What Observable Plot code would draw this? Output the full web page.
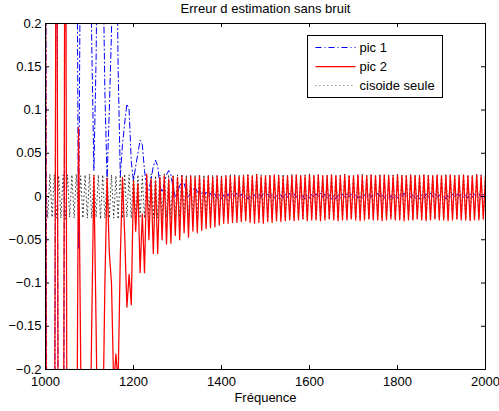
<!DOCTYPE html>
<html><head><meta charset="utf-8">
<script src="https://cdn.jsdelivr.net/npm/d3@7"></script>
<script src="https://cdn.jsdelivr.net/npm/@observablehq/plot@0.6"></script>
<style>
body{margin:0;background:#fff;}
#wrap{position:relative;width:499px;height:411px;font-family:"Liberation Sans",Arial,sans-serif;}
</style></head><body><div id="wrap"></div>
<script>
// frequency grid (Hz), 5 Hz step
const freq = d3.range(1000, 2001, 5);

// pic 1 (blue dash-dot)
const pic1 = [
0.6,-1.0,-1.5,-1.0,-0.5,0.6,-0.6,-1.0,-0.6,0.5,
0.9,1.2,1.2,0.9,0.5,-0.06,0.35,0.6,0.7,0.6,
0.4,0.18,0.03,0.16,0.4,0.5,0.3,0.12,0.02,0.1,
0.19,0.35,0.4,0.15,0.024,0.06,0.085,0.107,0.1,0.04,
0.018,0.035,0.05,0.065,0.06,0.03,0.01,0.007,0.02,0.035,
0.042,0.035,0.012,0.005,0.015,0.025,0.03,0.025,0.01,0.0,
0.005,0.012,0.018,0.015,0.006,0.0,0.004,0.008,0.01,0.006,0.002,
0.004,0.000,0.005,-0.001,0.004,-0.002,0.003,-0.002,0.002,-0.003,
0.002,-0.002,0.003,-0.001,0.004,0.000,0.004,-0.001,0.003,-0.002,
0.002,-0.003,0.001,-0.003,0.002,-0.002,0.003,-0.001,0.004,0.000,
0.003,-0.001,0.002,-0.002,0.001,-0.003,0.002,-0.002,0.003,-0.001,
0.004,0.000,0.003,-0.001,0.002,-0.002,0.001,-0.003,0.002,-0.002,
0.003,-0.001,0.003,0.000,0.004,-0.001,0.003,-0.002,0.002,-0.003,
0.001,-0.003,0.002,-0.002,0.003,-0.001,0.004,0.000,0.003,-0.001,
0.002,-0.002,0.001,-0.003,0.002,-0.002,0.003,-0.001,0.003,0.000,
0.004,-0.001,0.003,-0.002,0.002,-0.003,0.001,-0.003,0.002,-0.002,
0.003,-0.001,0.004,0.000,0.003,-0.001,0.002,-0.002,0.001,-0.003,
0.002,-0.002,0.003,-0.001,0.004,0.000,0.003,-0.001,0.002,-0.002,
0.001,-0.003,0.002,-0.002,0.003,-0.001,0.004,0.000,0.003,-0.001,
0.002,-0.002,0.003,-0.001,0.003,0.000,0.004,-0.001,0.003,-0.002
];

// pic 2 (red solid)
const pic2 = [
0.3,-1.2,-1.6,-1.2,-0.5,0.6,-0.6,-1.0,-0.6,0.6,
-0.6,-0.9,-0.9,-0.7,-0.45,0.08,-0.19,-0.5,-0.6,-0.5,
-0.35,-0.15,0.024,-0.15,-0.35,-0.4,-0.28,-0.1,0.021,-0.065,
-0.1,-0.22,-0.182,-0.215,-0.07,0.022,-0.045,-0.128,-0.09,-0.125,
0.018,-0.04,0.015,-0.088,-0.02,-0.088,0.026,-0.05,0.02,-0.066,
0.018,-0.066,0.022,-0.05,0.024,-0.055,0.02,-0.054,0.023,-0.045,
0.022,-0.05,0.024,-0.042,0.021,-0.047,0.024,-0.04,0.022,-0.042,
0.024,-0.039,0.021,-0.037,0.024,-0.036,0.022,-0.035,0.024,-0.033,
0.022,-0.031,0.024,-0.031,0.023,-0.03,0.024,-0.03,0.023,-0.029,
0.024,-0.028,0.025,-0.03,0.024,-0.031,0.025,-0.03,0.023,-0.031,
0.024,-0.029,0.024,-0.03,0.025,-0.028,0.024,-0.029,0.023,-0.028,
0.024,-0.027,0.024,-0.028,0.025,-0.027,0.024,-0.026,0.024,-0.028,
0.025,-0.027,0.024,-0.027,0.025,-0.028,0.024,-0.027,0.024,-0.026,
0.025,-0.027,0.024,-0.028,0.024,-0.027,0.025,-0.027,0.024,-0.026,
0.024,-0.027,0.025,-0.028,0.024,-0.027,0.024,-0.026,0.025,-0.027,
0.024,-0.027,0.024,-0.028,0.025,-0.027,0.024,-0.026,0.024,-0.027,
0.025,-0.027,0.024,-0.028,0.024,-0.027,0.025,-0.027,0.024,-0.026,
0.024,-0.027,0.025,-0.028,0.024,-0.027,0.024,-0.026,0.025,-0.027,
0.024,-0.027,0.024,-0.028,0.025,-0.027,0.024,-0.026,0.024,-0.027,
0.025,-0.027,0.024,-0.028,0.024,-0.027,0.025,-0.027,0.024,-0.026,
0.024
];

// cisoide seule (black dotted)
const cisoide = [
0.025,-0.025,0.026,-0.024,0.025,-0.025,0.024,-0.025,0.025,-0.026,
0.025,-0.024,0.025,-0.025,0.026,-0.025,0.024,-0.025,0.025,-0.025,
0.026,-0.025,0.025,-0.024,0.025,-0.026,0.025,-0.025,0.024,-0.025,
0.025,-0.025,0.024,-0.026,0.025,-0.025,0.026,-0.024,0.025,-0.025,
0.025,-0.026,0.025,-0.025,0.024,-0.025,0.025,-0.024,0.026,-0.025,
0.024,-0.025,0.025,-0.025,0.026,-0.024,0.025,-0.026,0.025,-0.025,
0.025,-0.024,0.026,-0.025,0.025,-0.025,0.024,-0.026,0.025,-0.025,
0.026,-0.025,0.025,-0.024,0.025,-0.025,0.025,-0.026,0.024,-0.025,
0.025,-0.025,0.024,-0.025,0.026,-0.024,0.025,-0.025,0.025,-0.026,
0.025,-0.026,0.025,-0.025,0.024,-0.025,0.026,-0.025,0.025,-0.024,
0.024,-0.025,0.025,-0.026,0.025,-0.025,0.025,-0.024,0.026,-0.025,
0.025,-0.025,0.026,-0.024,0.025,-0.025,0.024,-0.026,0.025,-0.025,
0.026,-0.024,0.025,-0.025,0.025,-0.026,0.024,-0.025,0.025,-0.025,
0.025,-0.026,0.024,-0.025,0.025,-0.025,0.026,-0.024,0.025,-0.025,
0.024,-0.025,0.025,-0.024,0.026,-0.025,0.025,-0.026,0.025,-0.025,
0.025,-0.025,0.026,-0.025,0.024,-0.026,0.025,-0.024,0.025,-0.025,
0.026,-0.025,0.025,-0.025,0.025,-0.024,0.024,-0.026,0.025,-0.025,
0.025,-0.024,0.025,-0.026,0.026,-0.025,0.025,-0.025,0.024,-0.025,
0.024,-0.025,0.026,-0.025,0.025,-0.024,0.025,-0.026,0.025,-0.025,
0.025,-0.026,0.025,-0.024,0.024,-0.025,0.026,-0.025,0.025,-0.025,
0.025
];

const seriesNames = ["pic 1", "pic 2", "cisoide seule"];
const xTicks = [1000, 1200, 1400, 1600, 1800, 2000];
const yTicks = [-0.2, -0.15, -0.1, -0.05, 0, 0.05, 0.1, 0.15, 0.2];
const titleText = "Erreur d estimation sans bruit";
const xLabelText = "Fréquence";

const rows = vals => freq.map((f, i) => ({f, v: vals[i]}));
const fmtY = d => d === 0 ? "0" : (d < 0 ? "\u2212" : "") + String(Math.abs(d));

const W = 499, H = 411, mL = 45, mR = 14, mT = 23, mB = 42;
const fw = W - mL - mR, fh = H - mT - mB, tk = 4;

const lineStyles = [
  {stroke: "#0000ff", dash: "6,3,1,3", width: 1},
  {stroke: "#ff0000", dash: null, width: 1.25},
  {stroke: "#000000", dash: "0.8,3.2", width: 0.8}
];

const chart = Plot.plot({
  width: W, height: H,
  marginLeft: mL, marginRight: mR, marginTop: mT, marginBottom: mB,
  style: {fontFamily: "'Liberation Sans', Arial, sans-serif", fontSize: "13px", background: "white", overflow: "visible", color: "black"},
  x: {domain: [1000, 2000], label: null},
  y: {domain: [-0.2, 0.2], label: null},
  marks: [
    Plot.line(rows(cisoide), {x: "f", y: "v", stroke: lineStyles[2].stroke, strokeWidth: lineStyles[2].width, strokeDasharray: lineStyles[2].dash, clip: true}),
    Plot.line(rows(pic1), {x: "f", y: "v", stroke: lineStyles[0].stroke, strokeWidth: lineStyles[0].width, strokeDasharray: lineStyles[0].dash, clip: true}),
    Plot.line(rows(pic2), {x: "f", y: "v", stroke: lineStyles[1].stroke, strokeWidth: lineStyles[1].width, clip: true}),
    Plot.frame({stroke: "black", strokeWidth: 1}),
    Plot.tickX(xTicks, {x: d => d, insetTop: fh - tk, stroke: "black"}),
    Plot.tickX(xTicks, {x: d => d, insetBottom: fh - tk, stroke: "black"}),
    Plot.tickY(yTicks, {y: d => d, insetRight: fw - tk, stroke: "black"}),
    Plot.tickY(yTicks, {y: d => d, insetLeft: fw - tk, stroke: "black"}),
    Plot.axisX(xTicks, {tickSize: 0, tickPadding: 7, tickFormat: d => String(d), label: null, fontSize: 13}),
    Plot.axisY(yTicks, {tickSize: 0, tickPadding: 4, tickFormat: fmtY, label: null, fontSize: 13}),
    Plot.text([titleText], {text: d => d, frameAnchor: "top", dy: -11, lineAnchor: "bottom", fontSize: 13}),
    Plot.text([xLabelText], {text: d => d, frameAnchor: "bottom", dy: 32, lineAnchor: "bottom", fontSize: 13})
  ]
});
document.getElementById("wrap").appendChild(chart);

// legend overlay
const leg = d3.select("#wrap").append("svg")
  .attr("width", W).attr("height", H)
  .style("position", "absolute").style("left", "0px").style("top", "0px")
  .style("font-family", "'Liberation Sans', Arial, sans-serif");
const lg = leg.append("g").attr("transform", "translate(307.5,35.5)");
lg.append("rect").attr("width", 135).attr("height", 62).attr("fill", "white").attr("stroke", "black");
seriesNames.forEach((name, i) => {
  const yy = 12 + i * 19;
  const ln = lg.append("line").attr("x1", 8).attr("x2", 48).attr("y1", yy).attr("y2", yy)
    .attr("stroke", lineStyles[i].stroke).attr("stroke-width", lineStyles[i].width);
  if (lineStyles[i].dash) ln.attr("stroke-dasharray", lineStyles[i].dash);
  lg.append("text").attr("x", 52).attr("y", yy + 4.5).attr("font-size", 13).attr("fill", "black").text(name);
});
</script></body></html>
